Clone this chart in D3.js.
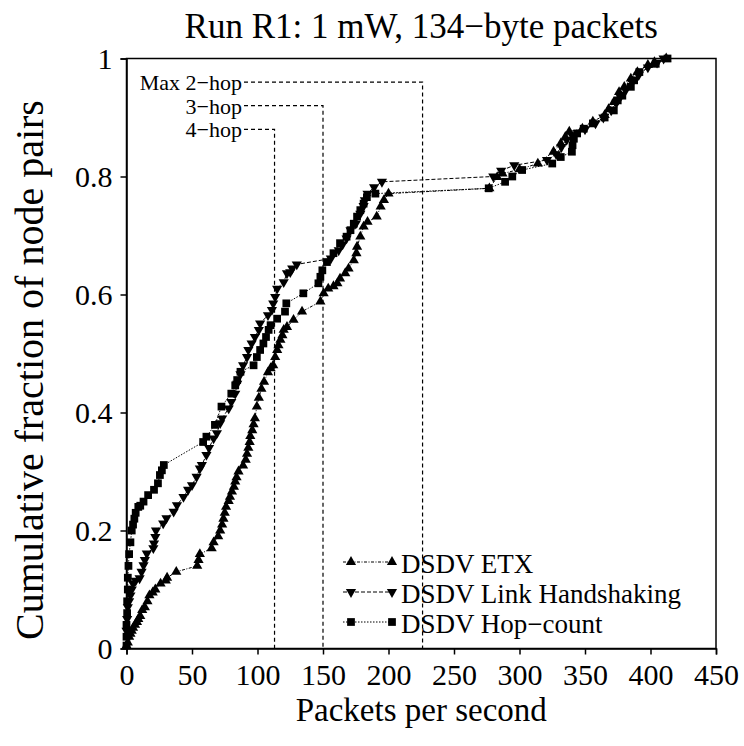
<!DOCTYPE html>
<html>
<head>
<meta charset="utf-8">
<script src="https://d3js.org/d3.v7.min.js"></script>
<style>
  body { margin: 0; background: #fff; }
  text { font-family: "Liberation Serif", "DejaVu Serif", serif; fill: #000; }
</style>
</head>
<body>
<svg></svg>
<script>
var width = 744;
var height = 746;

// [packets per second, cumulative fraction]
var etx = [[0,0.005],[1,0.01],[2,0.02],[3,0.025],[4,0.03],[5,0.035],[6.5,0.04],[8,0.045],[9,0.05],[10.5,0.055],[12,0.065],[14,0.07],[16,0.08],[17.5,0.09],[20,0.095],[22,0.1],[26,0.11],[30,0.115],[31,0.12],[38,0.13],[54,0.14],[55,0.15],[56,0.16],[65,0.17],[66.5,0.18],[70,0.19],[71.5,0.2],[73,0.21],[74,0.22],[75,0.23],[76,0.24],[78,0.25],[79,0.257],[80.5,0.266],[82,0.274],[83,0.283],[84,0.29],[85.5,0.3],[89,0.31],[91,0.32],[92,0.33],[93,0.34],[94,0.35],[94.5,0.36],[96,0.37],[97,0.38],[98,0.39],[99.5,0.41],[101,0.425],[103,0.44],[105,0.452],[108,0.468],[110,0.475],[112,0.48],[113.5,0.494],[115,0.506],[116,0.514],[117.5,0.523],[119,0.531],[120,0.54],[122.5,0.545],[127.5,0.557],[134,0.571],[148,0.588],[150.5,0.602],[154,0.61],[158,0.614],[161,0.619],[163,0.627],[167,0.636],[169.5,0.644],[173.5,0.658],[175.5,0.67],[176,0.681],[178.5,0.698],[181,0.715],[184,0.723],[191,0.732],[194,0.749],[196.5,0.76],[200,0.771],[277,0.78],[283,0.799],[287,0.805],[300,0.812],[314,0.822],[326,0.842],[331.5,0.856],[335,0.867],[338,0.876],[348,0.881],[356,0.893],[365,0.904],[368,0.914],[372,0.926],[376,0.943],[380,0.952],[385,0.966],[390,0.977],[398,0.989],[403,0.994],[412,1.0]];

var link = [[0,0.03],[0.5,0.05],[1,0.07],[2,0.08],[3,0.09],[4,0.1],[5,0.11],[7,0.115],[10,0.119],[11.5,0.13],[13,0.141],[14,0.15],[15.5,0.161],[20.5,0.17],[21,0.178],[22,0.189],[22.5,0.2],[28,0.212],[30.5,0.221],[36,0.232],[38.5,0.243],[43.5,0.257],[47,0.269],[50,0.277],[53.5,0.291],[56,0.305],[57.5,0.311],[61,0.328],[63,0.34],[66.5,0.356],[69,0.365],[71.5,0.382],[73,0.39],[78,0.407],[80,0.418],[83,0.432],[84.5,0.449],[87,0.465],[89,0.48],[92,0.494],[93,0.506],[95.5,0.517],[98,0.528],[101,0.54],[102,0.551],[108,0.565],[111,0.574],[112,0.585],[113.5,0.596],[115,0.61],[120,0.621],[122.5,0.636],[125,0.638],[126.5,0.644],[130,0.651],[156,0.661],[162,0.675],[165,0.685],[168,0.695],[171,0.709],[175,0.72],[178.5,0.737],[181,0.75],[182,0.76],[184,0.771],[189,0.782],[195,0.791],[280,0.8],[286,0.81],[296,0.819],[321,0.828],[328,0.838],[332,0.85],[336,0.862],[340,0.87],[350,0.88],[358,0.89],[364,0.9],[370,0.912],[374,0.925],[377,0.935],[381,0.946],[386,0.96],[391,0.972],[398,0.985],[405,0.993],[410,1.0]];

var hop = [[0,0.005],[0,0.02],[0,0.04],[0.5,0.06],[0.5,0.08],[1,0.1],[1,0.12],[1.5,0.14],[2,0.16],[3,0.18],[4,0.2],[5,0.21],[6,0.22],[7,0.23],[9,0.24],[10.5,0.242],[13,0.249],[16.5,0.26],[21,0.269],[24,0.28],[25.5,0.294],[27,0.302],[28.5,0.311],[58.5,0.35],[61,0.359],[67.5,0.379],[72.5,0.41],[80,0.432],[83,0.446],[84.5,0.455],[87,0.469],[97,0.48],[99.5,0.494],[102,0.506],[104.5,0.517],[106.5,0.528],[108.5,0.54],[110,0.548],[115,0.559],[121,0.571],[122,0.585],[135,0.602],[146.5,0.619],[148,0.63],[149.5,0.641],[153,0.655],[158,0.67],[163,0.687],[168,0.698],[171,0.709],[173.5,0.72],[176,0.732],[178.5,0.743],[181,0.754],[183.5,0.765],[190,0.771],[276.5,0.78],[289,0.791],[294.5,0.8],[302,0.811],[325,0.822],[331.5,0.833],[340,0.842],[340.5,0.853],[341.5,0.864],[344,0.873],[349,0.881],[356,0.89],[365,0.9],[372,0.912],[375,0.929],[378.5,0.937],[385,0.952],[387.5,0.963],[391.5,0.977],[404,0.991],[413,1.0]];

var seriesNames = ["DSDV ETX", "DSDV Link Handshaking", "DSDV Hop\u2212count"];

// hop-limit guide lines: label, x value, y value of the leader
var hopLabels = ["Max 2\u2212hop", "3\u2212hop", "4\u2212hop"];
var hopX = [226, 150, 113];
var hopY = [0.96, 0.92, 0.88];

var xTicks = [0, 50, 100, 150, 200, 250, 300, 350, 400, 450];
var yTicks = [0, 0.2, 0.4, 0.6, 0.8, 1];

var margin = {top: 58.5, right: 28, bottom: 97.5, left: 126.5};
var w = width - margin.left - margin.right;
var h = height - margin.top - margin.bottom;

var svg = d3.select('svg')
            .attr('width', width)
            .attr('height', height);

var g = svg.append('g').attr('transform', 'translate(' + margin.left + ',' + margin.top + ')');

var x = d3.scaleLinear().domain([0, 450]).range([0, w]);
var y = d3.scaleLinear().domain([0, 1]).range([h, 0]);

// box
g.append('rect').attr('width', w).attr('height', h)
 .attr('fill', 'none').attr('stroke', '#000').attr('stroke-width', 1.5);

var xAxis = g.append('g').attr('transform', 'translate(0,' + h + ')')
  .call(d3.axisBottom(x).tickValues(xTicks).tickSize(6).tickPadding(9).tickFormat(d3.format('d')));
var yAxis = g.append('g')
  .call(d3.axisLeft(y).tickValues(yTicks).tickSize(6).tickPadding(8).tickFormat(function(d) { return d === 0 || d === 1 ? d : d3.format('.1f')(d); }));

[xAxis, yAxis].forEach(function(a) {
  a.select('.domain').attr('stroke-width', 1.5);
  a.selectAll('.tick line').attr('stroke-width', 1.5);
  a.selectAll('text').style('font-family', '"Liberation Serif", serif').style('font-size', '30px');
});

// hop guide lines
hopLabels.forEach(function(lbl, i) {
  var ly = y(hopY[i]);
  g.append('path')
   .attr('d', 'M' + (244 - margin.left) + ',' + ly + 'H' + x(hopX[i]) + 'V' + h)
   .attr('fill', 'none').attr('stroke', '#000').attr('stroke-width', 1.2)
   .attr('stroke-dasharray', '4,3');
  g.append('text')
   .attr('x', 242 - margin.left).attr('y', ly + 8)
   .attr('text-anchor', 'end')
   .style('font-size', '22px')
   .text(lbl);
});

var line = d3.line().x(d => x(d[0])).y(d => y(d[1]));
var dashes = ['3,1.5,1,1.5', '4,2', '1.5,1.5'];
var sym = [d3.symbol().type(d3.symbolTriangle).size(45),
           d3.symbol().type(d3.symbolTriangle).size(45),
           d3.symbol().type(d3.symbolSquare).size(60)];
var rot = [0, 180, 0];
var allData = [etx, link, hop];

allData.forEach(function(data, i) {
  g.append('path').datum(data)
   .attr('d', line)
   .attr('fill', 'none').attr('stroke', '#000').attr('stroke-width', 1)
   .attr('stroke-dasharray', dashes[i]);
  g.selectAll('.m' + i)
   .data(data)
   .enter()
   .append('path')
   .attr('class', 'm' + i)
   .attr('d', sym[i])
   .attr('transform', d => 'translate(' + x(d[0]) + ',' + y(d[1]) + ') rotate(' + rot[i] + ')')
   .attr('fill', '#000');
});

// legend
var legend = svg.append('g');
seriesNames.forEach(function(name, i) {
  var ly = 562 + i * 30;
  legend.append('line')
    .attr('x1', 343).attr('x2', 393).attr('y1', ly).attr('y2', ly)
    .attr('stroke', '#000').attr('stroke-width', 1).attr('stroke-dasharray', dashes[i]);
  [351, 392].forEach(function(mx) {
    legend.append('path').attr('d', sym[i])
      .attr('transform', 'translate(' + mx + ',' + ly + ') rotate(' + rot[i] + ')')
      .attr('fill', '#000');
  });
  legend.append('text')
    .attr('x', 401).attr('y', ly + 11)
    .style('font-size', '27px')
    .text(name);
});

// titles
svg.append('text')
   .attr('x', margin.left + w / 2).attr('y', 38)
   .attr('text-anchor', 'middle')
   .style('font-size', '35px')
   .text('Run R1: 1 mW, 134\u2212byte packets');

svg.append('text')
   .attr('x', margin.left + w / 2).attr('y', 721)
   .attr('text-anchor', 'middle')
   .style('font-size', '33px')
   .text('Packets per second');

svg.append('text')
   .attr('transform', 'translate(43,370) rotate(-90)')
   .attr('text-anchor', 'middle')
   .style('font-size', '40px')
   .text('Cumulative fraction of node pairs');
</script>
</body>
</html>
